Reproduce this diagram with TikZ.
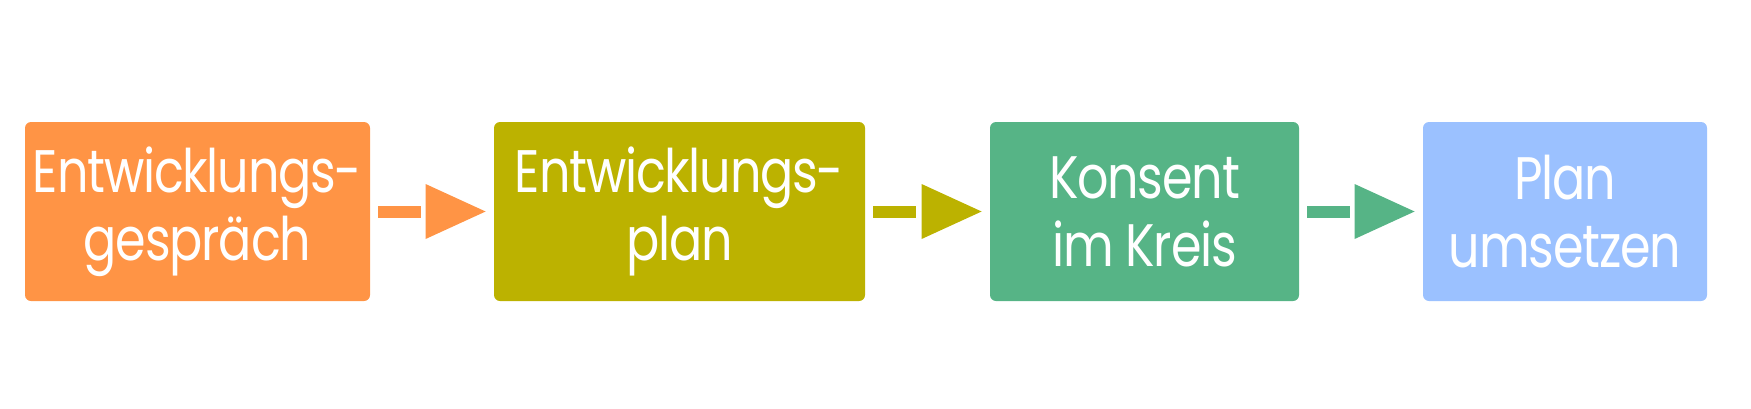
\documentclass[tikz,border=0pt]{standalone}
\usepackage{fontspec}
\setmainfont{Poppins}[FakeStretch=0.82, LetterSpace=-2]
\usepackage{tikz}
\usetikzlibrary{arrows.meta, positioning}
\definecolor{orangebox}{HTML}{FF9445}
\definecolor{olivebox}{HTML}{BCB200}
\definecolor{greenbox}{HTML}{56B486}
\definecolor{bluebox}{HTML}{9BC1FF}

\begin{document}
\begin{tikzpicture}[x=0.5pt,y=-0.5pt]
    \tikzset{box/.style = {shape=rectangle, rounded corners=3pt, inner sep=0pt, minimum height=89.5pt, text=white, align=center, font=\fontsize{30}{34}\selectfont}}
    \tikzset{edge/.style = {line width=6pt, dash pattern=on 21.5pt off 100pt, shorten <=4pt, shorten >=4pt, -{Triangle[length=30pt, width=27.5pt, line width=0pt]}}}
    \useasboundingbox (0,0) rectangle (1751,408);
    % boxes
    \node[box, fill=orangebox, minimum width=172.5pt] (1) at (197.5,211.5) {Entwicklungs-\\gespräch};
    \node[box, fill=olivebox, minimum width=185.5pt] (2) at (679.5,211.5) {Entwicklungs-\\plan};
    \node[box, fill=greenbox, minimum width=154.5pt] (3) at (1144.5,211.5) {Konsent\\im Kreis};
    \node[box, fill=bluebox, minimum width=142pt] (4) at (1565,211.5) {Plan\\umsetzen};
    % edges
    \draw[edge, color=orangebox] (1) to (2);
    \draw[edge, color=olivebox] (2) to (3);
    \draw[edge, color=greenbox] (3) to (4);
\end{tikzpicture}
\end{document}
